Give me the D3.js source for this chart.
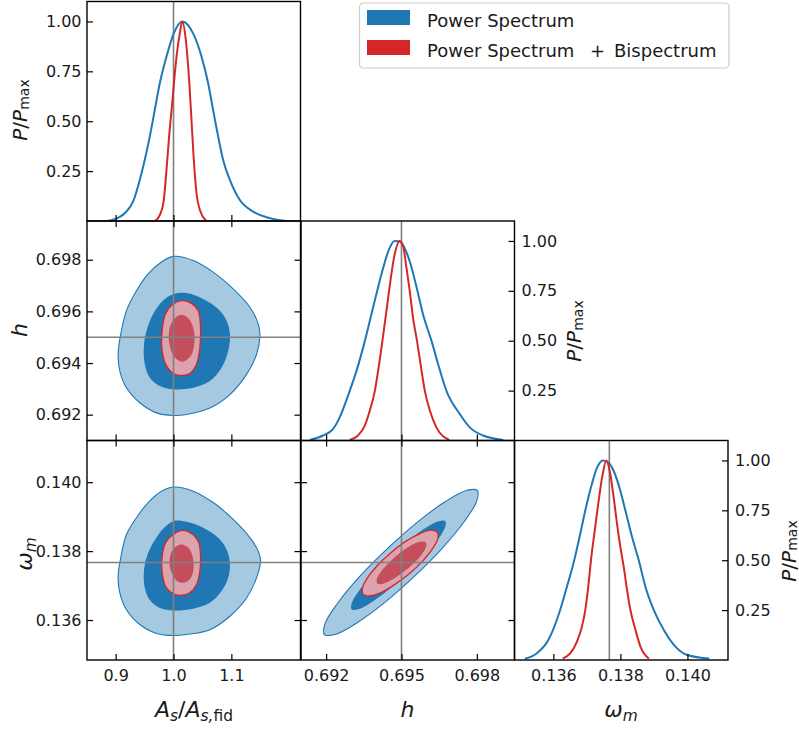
<!DOCTYPE html>
<html><head><meta charset="utf-8">
<script src="https://cdn.jsdelivr.net/npm/d3@7"></script>
<style>body{margin:0;background:#fff}svg{display:block}</style>
</head><body>
<svg id="c" width="799" height="731"></svg>
<script>
// ---------------- data ----------------
const seriesNames = ["Power Spectrum", "Power Spectrum + Bispectrum"];
const fidAs = 1.0, fidH = 0.695, fidOm = 0.13767;
const domAs = [0.8505, 1.2195], domH = [0.691, 0.6995], domOm = [0.13484, 0.14121], domP = [0, 1.1];
const asTicks = [0.9, 1.0, 1.1];
const hTicksY = [0.692, 0.694, 0.696, 0.698];
const hTicksX = [0.692, 0.695, 0.698];
const omTicks = [0.136, 0.138, 0.140];
const pTicks = [0.25, 0.5, 0.75, 1.0];

// 1D marginal: A_s / A_s,fid
const as1dPSx = [0.8841,0.8984,0.9157,0.9301,0.9417,0.9503,0.959,0.9676,0.9763,0.9879,0.9993,1.0152,1.0339,1.0484,1.0599,1.0685,1.0772,1.0858,1.0974,1.1147,1.1377,1.1609,1.1839,1.1955];
const as1dPSy = [0.0,0.009,0.039,0.097,0.206,0.306,0.423,0.556,0.69,0.824,0.932,1.0,0.94,0.824,0.69,0.556,0.423,0.306,0.206,0.105,0.047,0.019,0.004,0.0];
const as1dPBx = [0.9676,0.9763,0.9832,0.9879,0.9924,0.9983,1.004,1.0109,1.0152,1.0213,1.027,1.0311,1.0351,1.0398,1.0467,1.0571];
const as1dPBy = [0.0,0.03,0.105,0.256,0.423,0.607,0.79,0.94,1.0,0.907,0.707,0.506,0.306,0.139,0.047,0.0];

// 1D marginal: h
const h1dPSx = [0.69135,0.69188,0.69228,0.69254,0.69294,0.69321,0.69354,0.6938,0.69403,0.69427,0.69447,0.69473,0.69493,0.69513,0.69533,0.69564,0.69586,0.6962,0.69646,0.69679,0.69732,0.69772,0.69825,0.69905];
const h1dPSy = [0.003,0.025,0.058,0.116,0.249,0.349,0.498,0.631,0.748,0.864,0.947,1.0,0.997,0.963,0.897,0.748,0.631,0.498,0.382,0.249,0.133,0.066,0.025,0.003];
const h1dPBx = [0.69294,0.69327,0.69354,0.69374,0.69394,0.69407,0.69424,0.6944,0.69454,0.6947,0.69493,0.69507,0.6952,0.69533,0.69546,0.69562,0.6958,0.69593,0.69613,0.69639,0.6969];
const h1dPBy = [0.003,0.025,0.075,0.15,0.249,0.349,0.498,0.648,0.781,0.914,1.0,0.972,0.864,0.748,0.615,0.498,0.349,0.249,0.15,0.066,0.003];

// 1D marginal: omega_m
const om1dPSx = [0.13515,0.1355,0.13585,0.1362,0.1364,0.13662,0.1368,0.13695,0.13712,0.1373,0.13748,0.13762,0.1378,0.138,0.13815,0.13835,0.13855,0.13875,0.139,0.1393,0.1396,0.14,0.14065];
const om1dPSy = [0.007,0.033,0.1,0.249,0.365,0.498,0.631,0.748,0.864,0.963,1.0,0.993,0.947,0.847,0.748,0.615,0.498,0.365,0.249,0.149,0.075,0.025,0.007];
const om1dPBx = [0.13628,0.1365,0.1367,0.13685,0.13695,0.13705,0.13712,0.13722,0.13735,0.13747,0.13758,0.13768,0.1378,0.1379,0.138,0.1381,0.1382,0.1383,0.13845,0.1386,0.13885];
const om1dPBy = [0.007,0.033,0.091,0.166,0.249,0.382,0.498,0.631,0.797,0.93,1.0,0.947,0.814,0.681,0.565,0.465,0.349,0.249,0.15,0.066,0.007];

// 2D contours (As, h): [As, h]
const asH_PS_2s = [[1.0,0.69813],[1.034,0.69797],[1.0686,0.69752],[1.1032,0.69687],[1.1321,0.69616],[1.1465,0.69551],[1.1494,0.69505],[1.1436,0.69434],[1.1263,0.69356],[1.0975,0.69278],[1.0629,0.69226],[1.0225,0.69201],[1.0,0.69197],[0.9706,0.69207],[0.9418,0.69246],[0.9187,0.69304],[0.9072,0.69369],[0.9043,0.69434],[0.9083,0.69505],[0.9187,0.69603],[0.936,0.6968],[0.9562,0.69745],[0.9792,0.69791]];
const asH_PS_1s = [[1.0,0.69667],[1.0225,0.69671],[1.0513,0.69648],[1.0773,0.69609],[1.0917,0.69564],[1.0975,0.69512],[1.0946,0.69447],[1.083,0.69382],[1.0629,0.6933],[1.034,0.69304],[1.0,0.69298],[0.9764,0.69311],[0.9591,0.69343],[0.9504,0.69395],[0.9487,0.6946],[0.9533,0.69525],[0.9648,0.6959],[0.9821,0.69642]];
const asH_PB_2s = [[1.0156,0.69642],[1.0311,0.69631],[1.0427,0.69603],[1.0467,0.69538],[1.0456,0.6946],[1.0398,0.69395],[1.0283,0.69359],[1.0156,0.69352],[1.0023,0.69356],[0.9879,0.69389],[0.9804,0.69447],[0.9804,0.69525],[0.9862,0.6959],[0.9994,0.69629]];
const asH_PB_1s = [[1.0138,0.69587],[1.0271,0.6957],[1.0352,0.69525],[1.0358,0.69473],[1.03,0.69428],[1.0156,0.69405],[1.0023,0.69421],[0.9937,0.69466],[0.9925,0.69525],[0.9994,0.69566]];

// 2D contours (As, omega_m): [As, om]
const asOm_PS_2s = [[1.0,0.13986],[1.034,0.13974],[1.0686,0.13941],[1.1032,0.13892],[1.1321,0.13839],[1.1465,0.138],[1.1505,0.13773],[1.1436,0.13723],[1.1263,0.13664],[1.0975,0.13611],[1.0629,0.13572],[1.0225,0.13558],[1.0,0.13555],[0.9706,0.13561],[0.9418,0.13587],[0.9187,0.1363],[0.9072,0.13679],[0.9043,0.13727],[0.9083,0.13776],[0.9187,0.13848],[0.936,0.13897],[0.9562,0.13941],[0.9792,0.13974]];
const asOm_PS_1s = [[1.0,0.13887],[1.0225,0.13885],[1.0513,0.13868],[1.0773,0.13839],[1.0917,0.13805],[1.0975,0.13766],[1.0946,0.13723],[1.083,0.13684],[1.0629,0.1365],[1.034,0.13633],[1.0,0.13628],[0.9764,0.13635],[0.9591,0.13658],[0.9504,0.13693],[0.9487,0.13737],[0.9533,0.13781],[0.9648,0.13824],[0.9821,0.13865]];
const asOm_PB_2s = [[1.0156,0.1386],[1.0311,0.13851],[1.0427,0.13829],[1.0467,0.1379],[1.0456,0.13742],[1.0398,0.13703],[1.0283,0.13679],[1.0156,0.13672],[1.0023,0.13674],[0.9879,0.13693],[0.9804,0.13737],[0.9804,0.13785],[0.9862,0.13824],[0.9994,0.13848]];
const asOm_PB_1s = [[1.0138,0.13819],[1.0271,0.13807],[1.034,0.13776],[1.034,0.13742],[1.0283,0.13718],[1.0156,0.13708],[1.004,0.13716],[0.9948,0.13747],[0.9937,0.13781],[1.0006,0.13808]];

// 2D contours (h, omega_m): [h, om]
const hOm_PS_2s = [[0.69802,0.13976],[0.69799,0.13944],[0.6975,0.13886],[0.69663,0.13809],[0.6955,0.13726],[0.6943,0.13649],[0.69319,0.1359],[0.69236,0.13558],[0.69193,0.13558],[0.69196,0.1359],[0.69245,0.13648],[0.69332,0.13725],[0.69445,0.13808],[0.69565,0.13885],[0.69675,0.13944],[0.69758,0.13976]];
const hOm_PS_1s = [[0.69675,0.13887],[0.69673,0.13868],[0.69643,0.13832],[0.6959,0.13785],[0.69521,0.13734],[0.69447,0.13687],[0.69379,0.13651],[0.69328,0.13631],[0.69301,0.13631],[0.69303,0.13651],[0.69333,0.13687],[0.69386,0.13734],[0.69455,0.13785],[0.69529,0.13832],[0.69597,0.13868],[0.69648,0.13887]];
const hOm_PB_2s = [[0.69642,0.13855],[0.69645,0.13837],[0.69624,0.13807],[0.69584,0.13771],[0.69531,0.13734],[0.69471,0.13702],[0.69416,0.13679],[0.69372,0.1367],[0.69347,0.13675],[0.69345,0.13694],[0.69365,0.13723],[0.69405,0.13759],[0.69459,0.13796],[0.69518,0.13829],[0.69574,0.13851],[0.69617,0.13861]];
const hOm_PB_1s = [[0.69597,0.13825],[0.69598,0.13813],[0.69584,0.13794],[0.69558,0.13771],[0.69522,0.13747],[0.69483,0.13726],[0.69447,0.13711],[0.69419,0.13704],[0.69403,0.13707],[0.69402,0.13719],[0.69416,0.13738],[0.69443,0.13761],[0.69478,0.13785],[0.69517,0.13807],[0.69553,0.13822],[0.69581,0.13828]];

// ---------------- styles / layout ----------------
const C = {blue:"#1f77b4", lightBlue:"#a6c9e2", red:"#d62728", darkRed:"#c44e5b", pink:"#dba3ad", gray:"#808080", text:"#1a1a1a"};
const FONT = "DejaVu Sans";
const colX = [87, 301, 514.5], colW = 213.5;
const rowY = [1.5, 221, 440.5], rowH = 219.5;

const svg = d3.select("#c");
const xAs = d3.scaleLinear().domain(domAs).range([colX[0], colX[0]+colW]);
const xH  = d3.scaleLinear().domain(domH).range([colX[1], colX[1]+colW]);
const xOm = d3.scaleLinear().domain(domOm).range([colX[2], colX[2]+colW]);
const yH  = d3.scaleLinear().domain(domH).range([rowY[1]+rowH, rowY[1]]);
const yOm = d3.scaleLinear().domain(domOm).range([rowY[2]+rowH, rowY[2]]);
const yP  = [0,1,2].map(r => d3.scaleLinear().domain(domP).range([rowY[r]+rowH, rowY[r]]));

function panel(r, c) {
  const id = "clip"+r+c;
  svg.append("clipPath").attr("id", id).append("rect")
    .attr("x", colX[c]).attr("y", rowY[r]).attr("width", colW).attr("height", rowH);
  const g = svg.append("g");
  const inner = g.append("g").attr("clip-path", `url(#${id})`);
  return {g, inner, r, c};
}
function border(p) {
  p.g.append("rect").attr("x", colX[p.c]).attr("y", rowY[p.r]).attr("width", colW).attr("height", rowH)
    .attr("fill","none").attr("stroke","#000").attr("stroke-width",1.4);
}
function axis(p, gen, tr, showLabels) {
  const a = p.g.append("g").attr("transform", tr).call(gen);
  a.attr("font-family", FONT).attr("font-size", 16);
  a.select(".domain").remove();
  a.selectAll(".tick line").attr("stroke","#000").attr("stroke-width",1.2);
  a.selectAll(".tick text").attr("fill", C.text);
  if (!showLabels) a.selectAll(".tick text").remove();
}
const f1 = d3.format(".1f"), f2 = d3.format(".2f"), f3 = d3.format(".3f");
const L = (p)=>`translate(${colX[p.c]},0)`, R = (p)=>`translate(${colX[p.c]+colW},0)`;
const T = (p)=>`translate(0,${rowY[p.r]})`, B = (p)=>`translate(0,${rowY[p.r]+rowH})`;

function curve1D(p, xs, ys, xArr, yArr, color) {
  const line = d3.line().x(d=>xs(d[0])).y(d=>ys(d[1])).curve(d3.curveMonotoneX);
  p.inner.append("path").datum(d3.zip(xArr, yArr)).attr("d", line)
    .attr("fill","none").attr("stroke", color).attr("stroke-width", 2);
}
function contour(p, xs, ys, pts, fill, stroke, sw) {
  const line = d3.line().x(d=>xs(d[0])).y(d=>ys(d[1])).curve(d3.curveCatmullRomClosed.alpha(0.5));
  p.inner.append("path").datum(pts).attr("d", line).attr("fill", fill)
    .attr("stroke", stroke || "none").attr("stroke-width", sw || 0);
}
function vline(p, x) {
  p.inner.append("line").attr("x1", x).attr("x2", x).attr("y1", rowY[p.r]).attr("y2", rowY[p.r]+rowH)
    .attr("stroke", C.gray).attr("stroke-width", 1.6);
}
function hline(p, y) {
  p.inner.append("line").attr("x1", colX[p.c]).attr("x2", colX[p.c]+colW).attr("y1", y).attr("y2", y)
    .attr("stroke", C.gray).attr("stroke-width", 1.6);
}

// ---- panel (0,0): As marginal
{
  const p = panel(0,0);
  vline(p, xAs(fidAs));
  curve1D(p, xAs, yP[0], as1dPSx, as1dPSy, C.blue);
  curve1D(p, xAs, yP[0], as1dPBx, as1dPBy, C.red);
  axis(p, d3.axisLeft(yP[0]).tickValues(pTicks).tickFormat(f2).tickSize(-6).tickPadding(5.5), L(p), true);
  axis(p, d3.axisBottom(xAs).tickValues(asTicks).tickSize(-6), B(p), false);
  border(p);
}
// ---- panel (1,0): As vs h
{
  const p = panel(1,0);
  contour(p, xAs, yH, asH_PS_2s, C.lightBlue, C.blue, 1.1);
  contour(p, xAs, yH, asH_PS_1s, C.blue);
  contour(p, xAs, yH, asH_PB_2s, C.pink, C.red, 1.3);
  contour(p, xAs, yH, asH_PB_1s, C.darkRed);
  vline(p, xAs(fidAs)); hline(p, yH(fidH));
  axis(p, d3.axisLeft(yH).tickValues(hTicksY).tickFormat(f3).tickSize(-6).tickPadding(5.5), L(p), true);
  axis(p, d3.axisRight(yH).tickValues(hTicksY).tickSize(-6), R(p), false);
  axis(p, d3.axisTop(xAs).tickValues(asTicks).tickSize(-6), T(p), false);
  axis(p, d3.axisBottom(xAs).tickValues(asTicks).tickSize(-6), B(p), false);
  border(p);
}
// ---- panel (2,0): As vs omega_m
{
  const p = panel(2,0);
  contour(p, xAs, yOm, asOm_PS_2s, C.lightBlue, C.blue, 1.1);
  contour(p, xAs, yOm, asOm_PS_1s, C.blue);
  contour(p, xAs, yOm, asOm_PB_2s, C.pink, C.red, 1.3);
  contour(p, xAs, yOm, asOm_PB_1s, C.darkRed);
  vline(p, xAs(fidAs)); hline(p, yOm(fidOm));
  axis(p, d3.axisLeft(yOm).tickValues(omTicks).tickFormat(f3).tickSize(-6).tickPadding(5.5), L(p), true);
  axis(p, d3.axisRight(yOm).tickValues(omTicks).tickSize(-6), R(p), false);
  axis(p, d3.axisTop(xAs).tickValues(asTicks).tickSize(-6), T(p), false);
  axis(p, d3.axisBottom(xAs).tickValues(asTicks).tickFormat(f1).tickSize(-6).tickPadding(9.5), B(p), true);
  border(p);
}
// ---- panel (1,1): h marginal
{
  const p = panel(1,1);
  vline(p, xH(fidH));
  curve1D(p, xH, yP[1], h1dPSx, h1dPSy, C.blue);
  curve1D(p, xH, yP[1], h1dPBx, h1dPBy, C.red);
  axis(p, d3.axisRight(yP[1]).tickValues(pTicks).tickFormat(f2).tickSize(-6).tickPadding(7), R(p), true);
  axis(p, d3.axisBottom(xH).tickValues(hTicksX).tickSize(-6), B(p), false);
  border(p);
}
// ---- panel (2,1): h vs omega_m
{
  const p = panel(2,1);
  contour(p, xH, yOm, hOm_PS_2s, C.lightBlue, C.blue, 1.1);
  contour(p, xH, yOm, hOm_PS_1s, C.blue);
  contour(p, xH, yOm, hOm_PB_2s, C.pink, C.red, 1.3);
  contour(p, xH, yOm, hOm_PB_1s, C.darkRed);
  vline(p, xH(fidH)); hline(p, yOm(fidOm));
  axis(p, d3.axisLeft(yOm).tickValues(omTicks).tickSize(-6), L(p), false);
  axis(p, d3.axisRight(yOm).tickValues(omTicks).tickSize(-6), R(p), false);
  axis(p, d3.axisTop(xH).tickValues(hTicksX).tickSize(-6), T(p), false);
  axis(p, d3.axisBottom(xH).tickValues(hTicksX).tickFormat(f3).tickSize(-6).tickPadding(9.5), B(p), true);
  border(p);
}
// ---- panel (2,2): omega_m marginal
{
  const p = panel(2,2);
  vline(p, xOm(fidOm));
  curve1D(p, xOm, yP[2], om1dPSx, om1dPSy, C.blue);
  curve1D(p, xOm, yP[2], om1dPBx, om1dPBy, C.red);
  axis(p, d3.axisRight(yP[2]).tickValues(pTicks).tickFormat(f2).tickSize(-6).tickPadding(7), R(p), true);
  axis(p, d3.axisBottom(xOm).tickValues(omTicks).tickFormat(f3).tickSize(-6).tickPadding(9.5), B(p), true);
  border(p);
}

// ---------------- axis labels (math-like) ----------------
function mathLabel(x, y, rot, parts, size, subShift) {
  const t = svg.append("text").attr("transform", `translate(${x},${y}) rotate(${rot})`)
    .attr("text-anchor","middle").attr("font-family", FONT).attr("font-size", size).attr("fill", C.text);
  let shift = 0;
  const ss = subShift === undefined ? size*0.2 : subShift;
  parts.forEach(pt => {
    const s = t.append("tspan").text(pt.t);
    if (pt.it) s.attr("font-style","italic");
    const target = pt.sub ? ss : 0;
    if (target !== shift) { s.attr("dy", target - shift); shift = target; }
    if (pt.sub) s.attr("font-size", size*0.7);
  });
  return t;
}
const PP = [{t:"P",it:true},{t:"/"},{t:"P",it:true},{t:"max",sub:true}];
mathLabel(27, 110, -90, PP, 20, 1.5);
mathLabel(581, 331, -90, PP, 20, 1.5);
mathLabel(795.5, 551, -90, PP, 20, 1.5);
mathLabel(27, 330, -90, [{t:"h",it:true}], 22);
mathLabel(32, 554, -90, [{t:"ω",it:true},{t:"m",it:true,sub:true}], 22);
mathLabel(194, 717, 0, [{t:"A",it:true},{t:"s",it:true,sub:true},{t:"/"},{t:"A",it:true},{t:"s,",it:true,sub:true},{t:"fid",sub:true}], 22);
mathLabel(407.5, 717, 0, [{t:"h",it:true}], 22);
mathLabel(621, 717, 0, [{t:"ω",it:true},{t:"m",it:true,sub:true}], 22);

// ---------------- legend ----------------
const lg = svg.append("g");
lg.append("rect").attr("x",359.5).attr("y",3).attr("width",369.5).attr("height",65).attr("rx",4)
  .attr("fill","#fff").attr("stroke","#cccccc").attr("stroke-width",1.2);
[C.blue, C.red].forEach((col,i)=>{
  lg.append("rect").attr("x",367).attr("y",10+i*30).attr("width",43).attr("height",15).attr("fill",col);
});
lg.append("text").attr("x",427).attr("y",26.5).attr("font-family",FONT).attr("font-size",18).attr("fill",C.text).text(seriesNames[0]);
const l2 = lg.append("text").attr("y",56.5).attr("font-family",FONT).attr("font-size",18).attr("fill",C.text);
const parts2 = seriesNames[1].split(" + ");
l2.append("tspan").attr("x",427).text(parts2[0]);
l2.append("tspan").attr("x",590).text("+");
l2.append("tspan").attr("x",614).text(parts2[1]);
</script>
</body></html>
